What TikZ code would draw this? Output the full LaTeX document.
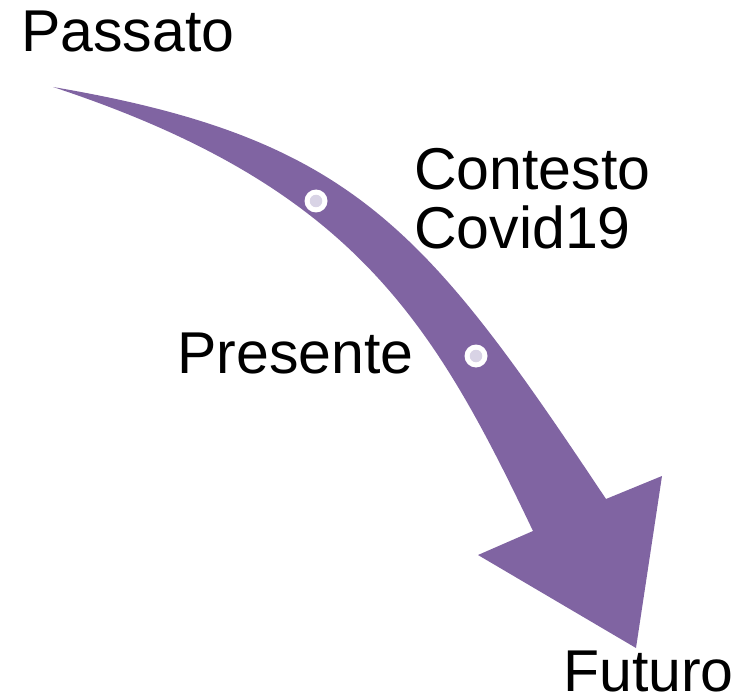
\documentclass[tikz,border=0pt]{standalone}
\usepackage{fontspec}
\setmainfont{Liberation Sans}
\definecolor{arrowpurple}{RGB}{128,100,162}
\definecolor{dotfill}{RGB}{216,211,229}
\tikzset{
  lbl/.style={anchor=base west, inner sep=0pt, font=\fontsize{59}{59}\selectfont, text=black},
  dotring/.style={circle, fill=white, minimum size=23pt, inner sep=0pt},
  dotcore/.style={circle, fill=dotfill, minimum size=12.5pt, inner sep=0pt}
}
\begin{document}
\begin{tikzpicture}[x=1pt,y=-1pt]
\useasboundingbox (0,0) rectangle (737,698);
% curved arrow
\fill[arrowpurple]
  (53,87) .. controls (353,138) and (426,229) .. (606,499)
  -- (662,476) -- (636,648) -- (478,555) -- (533,531)
  .. controls (433,321) and (353,186) .. (53,87)
  -- cycle;
% dots
\node[dotring] (d1) at (316,201) {};
\node[dotcore] (c1) at (d1) {};
\node[dotring] (d2) at (476,356) {};
\node[dotcore] (c2) at (d2) {};
% labels
\node[lbl] (passato) at (21,52) {Passato};
\node[lbl] (contesto) at (414,190) {Contesto};
\node[lbl] (covid) at (414,248) {Covid19};
\node[lbl] (presente) at (177,373) {Presente};
\node[lbl] (futuro) at (563,691) {Futuro};
\end{tikzpicture}
\end{document}
